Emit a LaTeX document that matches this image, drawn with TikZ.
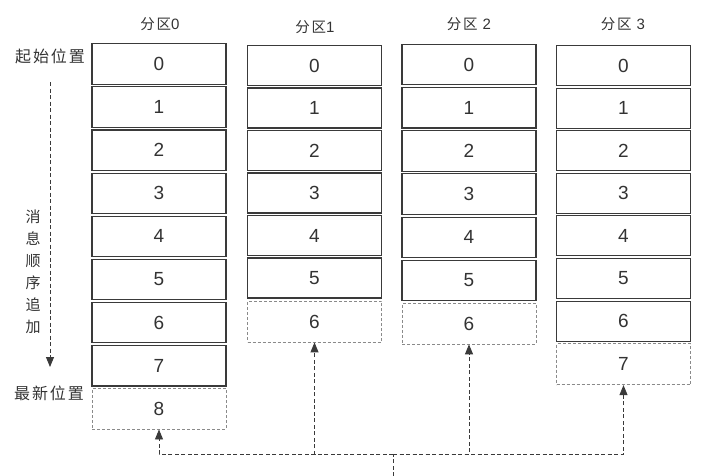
\documentclass[tikz,border=0pt]{standalone}
\usepackage{fontspec}
\setmainfont{Liberation Sans}
\newfontfamily\cjk[LetterSpace=12]{Noto Sans CJK SC}
\usetikzlibrary{arrows.meta}
\definecolor{ink}{HTML}{3A3A3A}
\definecolor{txt}{HTML}{333333}
\definecolor{dashgray}{HTML}{8A8A8A}
\tikzset{
  cell/.style={draw=ink, line width=1.1pt, fill=white, minimum width=134pt, minimum height=40.5pt, inner sep=0pt, font=\fontsize{19}{19}\selectfont, text=txt},
  newcell/.style={cell, draw=dashgray, line width=0.8pt, dash pattern=on 3pt off 2pt},
  head/.style={font=\cjk\fontsize{14.5}{14.5}\selectfont, text=txt, inner sep=0pt},
  side/.style={font=\cjk\fontsize{16}{16}\selectfont, text=txt, inner sep=0pt},
  link/.style={draw=ink, line width=0.9pt, dash pattern=on 4pt off 2.5pt},
  linkarrow/.style={link, -{Triangle[width=8pt,length=10pt]}},
}
\newcommand{\hd}[1]{{\rmfamily\fontsize{15}{15}\selectfont #1}}
\begin{document}
\begin{tikzpicture}[x=1pt,y=-1pt]
\useasboundingbox (0,0) rectangle (720,475);
% partition 0
\foreach \i in {0,...,7} {
  \node[cell] (p0c\i) at (159, 43.5+43.1*\i+20.5) {\i};
}
\node[newcell] (p0c8) at (159, 43.5+43.1*8+20.5) {8};
% partition 1
\foreach \i in {0,...,5} {
  \node[cell, minimum height=40pt] (p1c\i) at (314.5, 45.5+42.5*\i+20) {\i};
}
\node[newcell, minimum height=41pt] (p1c6) at (314.5, 45.5+42.5*6+21) {6};
% partition 2
\foreach \i in {0,...,5} {
  \node[cell] (p2c\i) at (469, 44+43.2*\i+20.5) {\i};
}
\node[newcell] (p2c6) at (469, 44+43.2*6+20.5) {6};
% partition 3
\foreach \i in {0,...,6} {
  \node[cell, minimum height=40pt] (p3c\i) at (623.5, 45.5+42.6*\i+20) {\i};
}
\node[newcell, minimum height=41pt] (p3c7) at (623.5, 45.5+42.6*7+20.5) {7};
% headers
\node[head] (h0) at (160, 24) {分区\hd{0}};
\node[head] (h1) at (315, 27) {分区\hd{1}};
\node[head] (h2) at (469, 24) {分区 \hd{2}};
\node[head] (h3) at (623, 24) {分区 \hd{3}};
% side labels
\node[side] (start) at (50, 56) {起始位置};
\node[side] (latest) at (49, 393) {最新位置};
\node[side, align=center, font=\cjk\fontsize{15}{22}\selectfont] (order) at (33, 271.5) {消\\息\\顺\\序\\追\\加};
\coordinate (arrS) at (50, 82);
\coordinate (arrE) at (50, 367);
\draw[linkarrow] (arrS) -- (arrE);
% bottom connectors
\coordinate (src) at (393, 476);
\coordinate (junc) at (393, 454);
\draw[link] (src) -- (junc);
\draw[linkarrow] (junc) -| (p0c8.south);
\draw[linkarrow] (junc) -| (p1c6.south);
\draw[linkarrow] (junc) -| (p2c6.south);
\draw[linkarrow] (junc) -| (p3c7.south);
\end{tikzpicture}
\end{document}
